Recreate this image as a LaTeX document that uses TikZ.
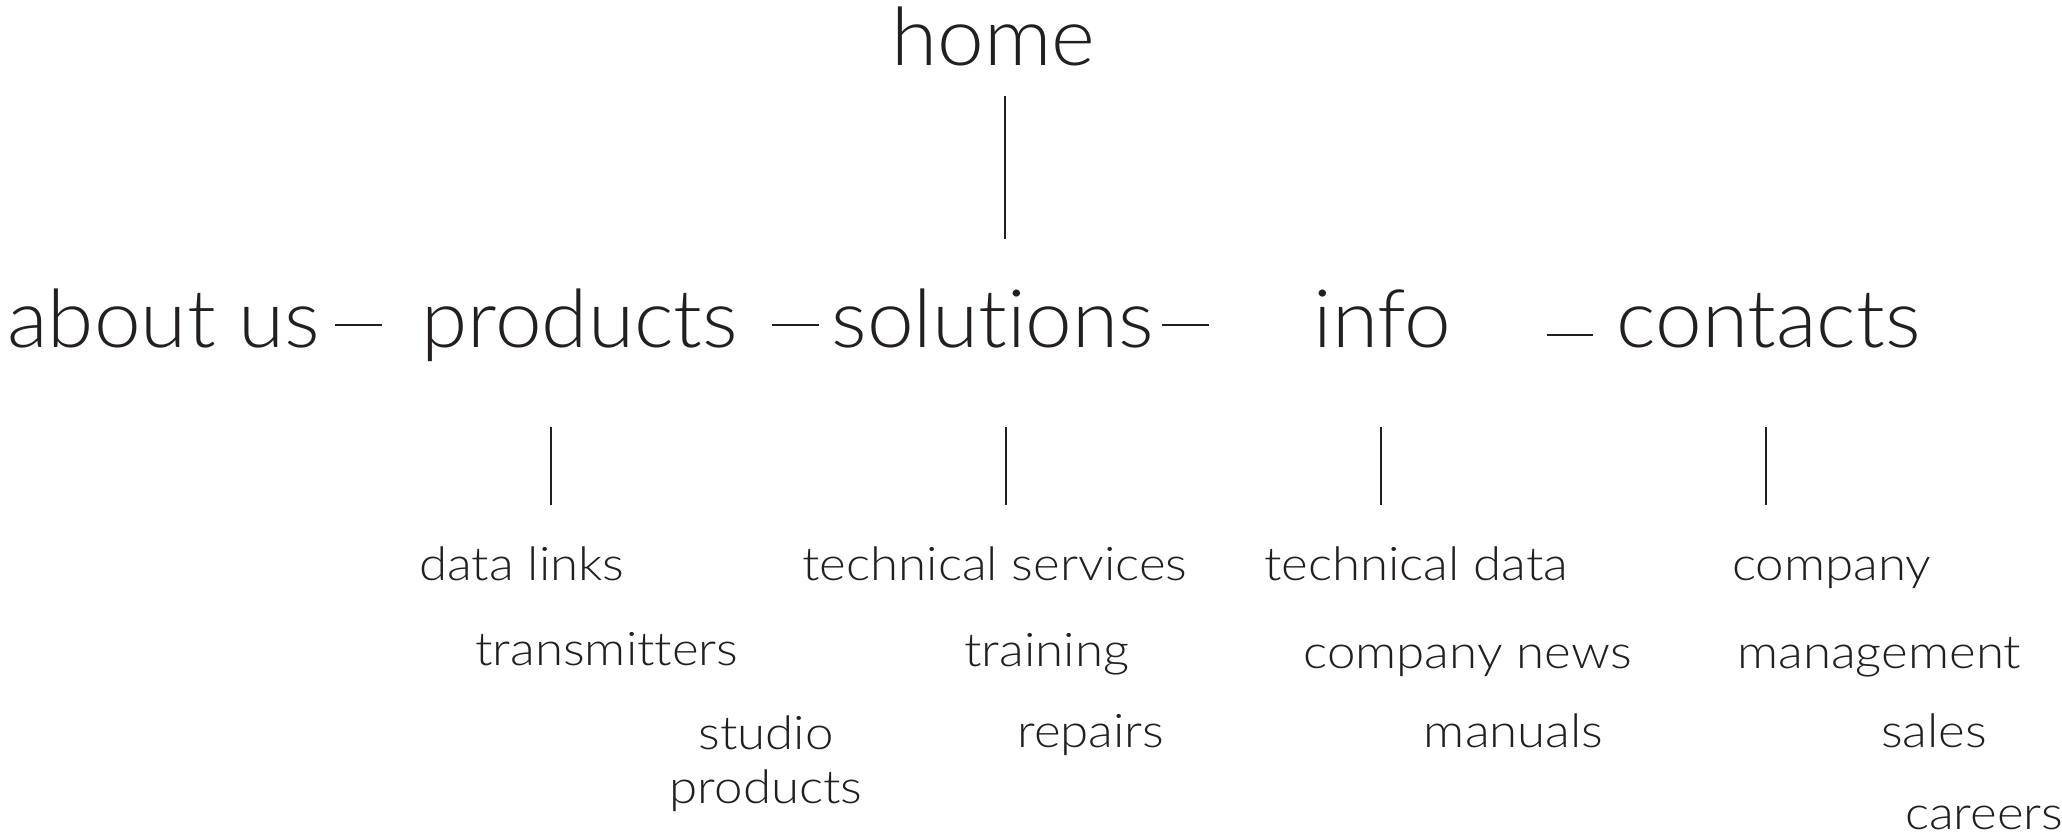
\documentclass[tikz,border=0pt]{standalone}
\usepackage{fontspec}
\setmainfont{Lato}[UprightFont=* Light, Ligatures=NoCommon]
\newfontfamily\topfont{Lato}[UprightFont=* Light, Ligatures=NoCommon, FakeStretch=1.04]
\newfontfamily\subfont{Lato}[UprightFont=* Light, Ligatures=NoCommon, FakeStretch=1.10]
\definecolor{ink}{HTML}{231F20}
\begin{document}
\begin{tikzpicture}[x=0.5pt,y=-0.5pt,
  toplevel/.style={font=\topfont\fontsize{40.3}{44}\selectfont, inner sep=0pt, anchor=base west, text=ink},
  sublevel/.style={font=\subfont\fontsize{23.2}{28}\selectfont, inner sep=0pt, anchor=base west, text=ink},
  link/.style={draw=ink, line width=1pt}]
\useasboundingbox (0,0) rectangle (2062,835);
% top
\node[toplevel] (home) at (891,65) {home};
\node[toplevel] (about) at (7,347) {about us};
\node[toplevel] (products) at (421,347) {products};
\node[toplevel] (solutions) at (831,347) {solutions};
\node[toplevel] (info) at (1313,347) {info};
\node[toplevel] (contacts) at (1616,347) {contacts};
% sub items
\node[sublevel] (datalinks) at (419,580) {data links};
\node[sublevel] (transmitters) at (475,665) {transmitters};
\node[sublevel, align=center, anchor=base] (studio) at (766,803) {studio\\[-1pt]products};
\node[sublevel] (techserv) at (802,580) {technical services};
\node[sublevel] (training) at (964,666) {training};
\node[sublevel] (repairs) at (1017,747) {repairs};
\node[sublevel] (techdata) at (1263.6,580) {technical data};
\node[sublevel] (news) at (1303,668) {company news};
\node[sublevel] (manuals) at (1423.5,747) {manuals};
\node[sublevel] (company) at (1731.7,580) {company};
\node[sublevel] (management) at (1737,668) {management};
\node[sublevel] (sales) at (1880.6,747) {sales};
\node[sublevel] (careers) at (1904.7,829) {careers};
% connector end points
\coordinate (h1) at (1005,96); \coordinate (h2) at (1005,239);
\coordinate (p1) at (551,427); \coordinate (p2) at (551,505);
\coordinate (s1) at (1005.6,427); \coordinate (s2) at (1005.6,505);
\coordinate (i1) at (1380.5,427); \coordinate (i2) at (1380.5,505);
\coordinate (c1) at (1765.8,427); \coordinate (c2) at (1765.8,505);
\coordinate (d1a) at (335,325); \coordinate (d1b) at (382,325);
\coordinate (d2a) at (772,325); \coordinate (d2b) at (819,325);
\coordinate (d3a) at (1162,325); \coordinate (d3b) at (1209,325);
\coordinate (d4a) at (1547,335); \coordinate (d4b) at (1593,335);
\draw[link] (h1) -- (h2);
\draw[link] (p1) -- (p2);
\draw[link] (s1) -- (s2);
\draw[link] (i1) -- (i2);
\draw[link] (c1) -- (c2);
\draw[link] (d1a) -- (d1b);
\draw[link] (d2a) -- (d2b);
\draw[link] (d3a) -- (d3b);
\draw[link] (d4a) -- (d4b);
\end{tikzpicture}
\end{document}
